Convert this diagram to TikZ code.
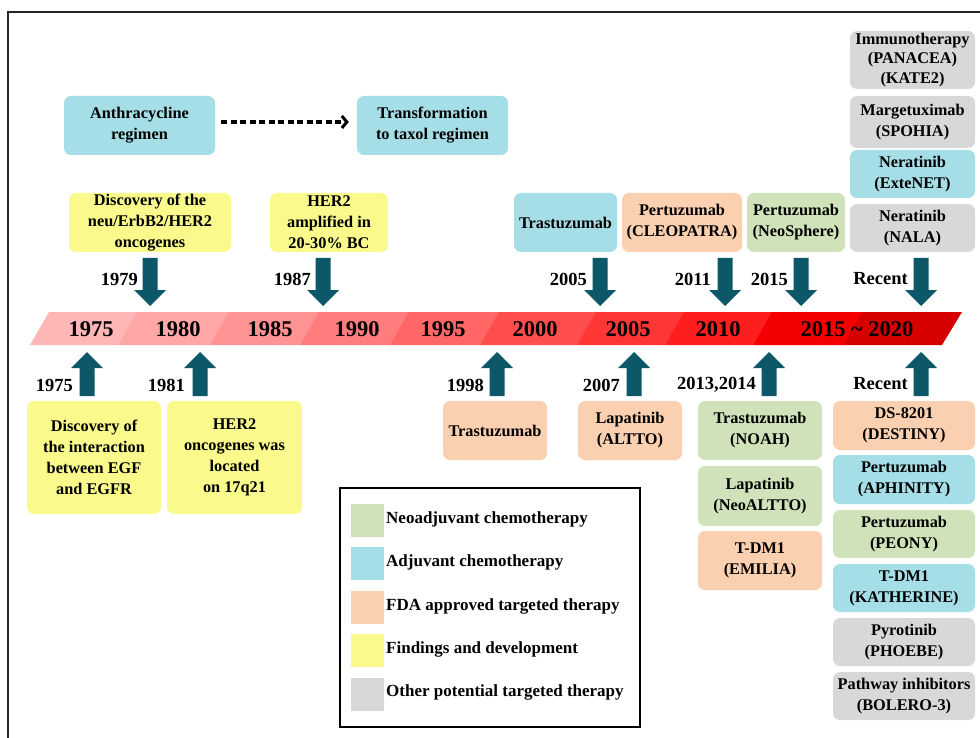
\documentclass[tikz,border=0pt]{standalone}
\usepackage{fontspec}
\setmainfont{Liberation Serif}
\usetikzlibrary{arrows.meta}
\definecolor{blueB}{RGB}{166,222,232}
\definecolor{yellowB}{RGB}{250,250,140}
\definecolor{orangeB}{RGB}{251,208,176}
\definecolor{greenB}{RGB}{208,226,186}
\definecolor{grayB}{RGB}{216,216,216}
\definecolor{tealA}{RGB}{12,88,104}
\definecolor{segA}{RGB}{255,182,182}
\definecolor{segB}{RGB}{255,166,166}
\definecolor{segC}{RGB}{255,146,146}
\definecolor{segD}{RGB}{255,124,124}
\definecolor{segE}{RGB}{255,102,102}
\definecolor{segF}{RGB}{255,76,76}
\definecolor{segG}{RGB}{255,54,54}
\definecolor{segH}{RGB}{255,30,30}
\definecolor{segI}{RGB}{245,0,0}
\definecolor{segJ}{RGB}{214,0,0}
\begin{document}
\begin{tikzpicture}[x=1pt,y=-1pt,
  box/.style={rounded corners=7pt, inner sep=0pt, align=center,
    font=\fontsize{16.3}{21}\selectfont\bfseries},
  yearlbl/.style={font=\fontsize{18.5}{20}\selectfont\bfseries, anchor=east, inner sep=1pt},
  bandyear/.style={font=\fontsize{22.5}{24}\selectfont\bfseries, inner sep=0pt},
  legtext/.style={font=\fontsize{17}{20}\selectfont\bfseries, anchor=west, inner sep=0pt},
  swatch/.style={minimum width=33pt, minimum height=33pt, inner sep=0pt},
  dasharrow/.style={line width=3.4pt, dash pattern=on 6pt off 3.5pt, -{Straight Barb[length=5pt,width=12pt,line width=3pt]}}]
\useasboundingbox (0,0) rectangle (980,738);
\fill[white] (0,0) rectangle (980,738);
% outer frame (open to right and bottom)
\draw[line width=1.5pt, black!85] (8,738) -- (8,12) -- (980,12);

% timeline band
\foreach \a/\b/\c in {30/118/segA,118/210/segB,210/300/segC,300/390/segD,390/480/segE,480/577/segF,577/665/segG,665/753/segH,753/843/segI,843/942/segJ}
  \fill[\c] (\a,345) -- (\b,345) -- (\b+20,312) -- (\a+19,312) -- cycle;
\node[bandyear] (b1975) at (91,329) {1975};
\node[bandyear] (b1980) at (178,329) {1980};
\node[bandyear] (b1985) at (270,329) {1985};
\node[bandyear] (b1990) at (357,329) {1990};
\node[bandyear] (b1995) at (443,329) {1995};
\node[bandyear] (b2000) at (535,329) {2000};
\node[bandyear] (b2005) at (628,329) {2005};
\node[bandyear] (b2010) at (718,329) {2010};
\node[bandyear] (b2015) at (857,329) {2015 \char"007E{} 2020};

% down arrows
\foreach \c in {150,323,600,725,801,921}
  \fill[tealA] (\c-7.5,258) -- (\c+7.5,258) -- (\c+7.5,290) -- (\c+16,290) -- (\c,306) -- (\c-16,290) -- (\c-7.5,290) -- cycle;
% up arrows
\foreach \c in {87,200,497,634,769,921}
  \fill[tealA] (\c-7.5,396) -- (\c+7.5,396) -- (\c+7.5,368) -- (\c+16,368) -- (\c,352) -- (\c-16,368) -- (\c-7.5,368) -- cycle;

% year labels
\node[yearlbl] (l1979) at (139,279) {1979};
\node[yearlbl] (l1987) at (312,279) {1987};
\node[yearlbl] (l2005) at (588,279) {2005};
\node[yearlbl] (l2011) at (712,279) {2011};
\node[yearlbl] (l2015) at (789,279) {2015};
\node[yearlbl] (lrecA) at (909,279) {Recent};
\node[yearlbl] (l1975) at (74,385) {1975};
\node[yearlbl] (l1981) at (186,385) {1981};
\node[yearlbl] (l1998) at (485,385) {1998};
\node[yearlbl] (l2007) at (621,385) {2007};
\node[yearlbl] (l2013) at (757,385) {2013,2014};
\node[yearlbl] (lrecB) at (909,384) {Recent};

% top boxes
\node[box, fill=blueB, minimum width=151pt, minimum height=59pt] (anth) at (139.5,125.5) {Anthracycline\\regimen};
\node[box, fill=blueB, minimum width=151pt, minimum height=59pt] (taxol) at (432.5,125.5) {Transformation\\to taxol regimen};
\draw[dasharrow, shorten <=6pt, shorten >=8pt] (anth.east |- 0,122) -- (taxol.west |- 0,122);

\node[box, fill=yellowB, minimum width=162pt, minimum height=59pt] (neu) at (150,222.5) {Discovery of the\\neu/ErbB2/HER2\\oncogenes};
\node[box, fill=yellowB, minimum width=118pt, minimum height=59pt] (amp) at (329,222.5) {HER2\\amplified in\\20-30\% BC};
\node[box, fill=blueB, minimum width=103pt, minimum height=59pt] (trasA) at (565.5,222.5) {Trastuzumab};
\node[box, fill=orangeB, minimum width=120pt, minimum height=59pt] (cleo) at (682,222.5) {Pertuzumab\\(CLEOPATRA)};
\node[box, fill=greenB, minimum width=98pt, minimum height=59pt] (neos) at (796,222.5) {Pertuzumab\\(NeoSphere)};

\node[box, fill=grayB, minimum width=125pt, minimum height=58pt, font=\fontsize{16.3}{19.5}\selectfont\bfseries] (immuno) at (912.5,60) {Immunotherapy\\(PANACEA)\\(KATE2)};
\node[box, fill=grayB, minimum width=125pt, minimum height=52pt] (marg) at (912.5,122) {Margetuximab\\(SPOHIA)};
\node[box, fill=blueB, minimum width=125pt, minimum height=48pt] (nerE) at (912.5,174) {Neratinib\\(ExteNET)};
\node[box, fill=grayB, minimum width=125pt, minimum height=48pt] (nerN) at (912.5,228) {Neratinib\\(NALA)};

% bottom boxes
\node[box, fill=yellowB, minimum width=134pt, minimum height=113pt] (egf) at (94,457.5) {Discovery of\\the interaction\\between EGF\\and EGFR};
\node[box, fill=yellowB, minimum width=135pt, minimum height=113pt] (loc) at (234.5,457.5) {HER2\\oncogenes was\\located\\on 17q21};
\node[box, fill=orangeB, minimum width=104pt, minimum height=59pt] (trasB) at (495,430.5) {Trastuzumab};
\node[box, fill=orangeB, minimum width=104pt, minimum height=59pt] (altto) at (630,430.5) {Lapatinib\\(ALTTO)};
\node[box, fill=greenB, minimum width=124pt, minimum height=59pt] (noah) at (760,430.5) {Trastuzumab\\(NOAH)};
\node[box, fill=greenB, minimum width=124pt, minimum height=60pt] (neoaltto) at (760,496) {Lapatinib\\(NeoALTTO)};
\node[box, fill=orangeB, minimum width=124pt, minimum height=59pt] (emilia) at (760,560.5) {T-DM1\\(EMILIA)};

\node[box, fill=orangeB, minimum width=142pt, minimum height=49pt] (destiny) at (904,425.5) {DS-8201\\(DESTINY)};
\node[box, fill=blueB, minimum width=142pt, minimum height=49pt] (aphinity) at (904,479.5) {Pertuzumab\\(APHINITY)};
\node[box, fill=greenB, minimum width=142pt, minimum height=48pt] (peony) at (904,534) {Pertuzumab\\(PEONY)};
\node[box, fill=blueB, minimum width=142pt, minimum height=48pt] (katherine) at (904,588) {T-DM1\\(KATHERINE)};
\node[box, fill=grayB, minimum width=142pt, minimum height=48pt] (phoebe) at (904,642) {Pyrotinib\\(PHOEBE)};
\node[box, fill=grayB, minimum width=142pt, minimum height=48pt] (bolero) at (904,696) {Pathway inhibitors\\(BOLERO-3)};

% legend
\node[draw=black, line width=2pt, minimum width=300pt, minimum height=239pt, inner sep=0pt] (legend) at (490,607.5) {};
\node[swatch, fill=greenB] (sw1) at (367.5,520) {};
\node[swatch, fill=blueB] (sw2) at (367.5,563.5) {};
\node[swatch, fill=orangeB] (sw3) at (367.5,607.5) {};
\node[swatch, fill=yellowB] (sw4) at (367.5,650.5) {};
\node[swatch, fill=grayB] (sw5) at (367.5,694) {};
\node[legtext] (t1) at (386,519) {Neoadjuvant chemotherapy};
\node[legtext] (t2) at (386,562.5) {Adjuvant chemotherapy};
\node[legtext] (t3) at (386,606) {FDA approved targeted therapy};
\node[legtext] (t4) at (386,649.5) {Findings and development};
\node[legtext] (t5) at (386,692.5) {Other potential targeted therapy};
\end{tikzpicture}
\end{document}
